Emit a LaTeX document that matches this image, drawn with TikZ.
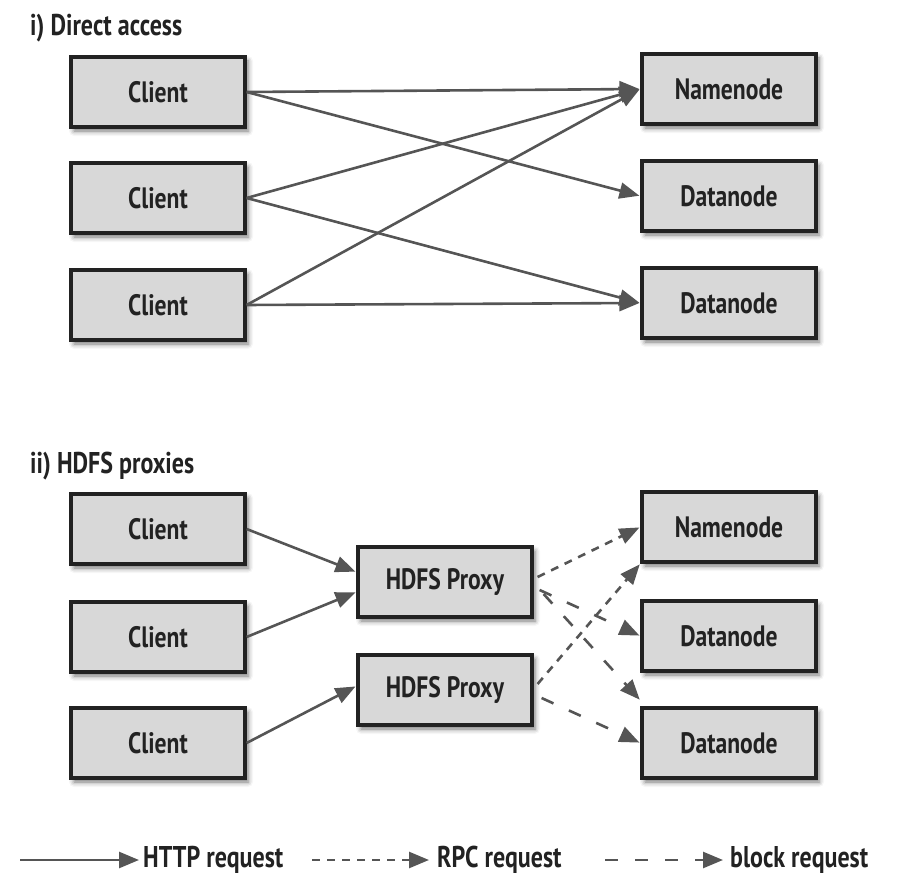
\documentclass[tikz,border=0pt]{standalone}
\usepackage{fontspec}
\setmainfont{PT Sans}[FakeStretch=0.8]
\usetikzlibrary{arrows.meta,shadows.blur}
\definecolor{boxfill}{HTML}{D8D8D8}
\definecolor{boxline}{HTML}{222222}
\definecolor{linkgray}{HTML}{555555}
\begin{document}
\begin{tikzpicture}[x=1pt,y=-1pt,
  box/.style={draw=boxline, line width=3.2pt, fill=boxfill, minimum width=174pt, minimum height=70pt,
    inner sep=0pt, font=\fontsize{29.5}{31}\selectfont\bfseries, text=boxline,
    blur shadow={shadow xshift=3pt, shadow yshift=-4pt, shadow blur radius=5pt, shadow opacity=55}},
  title/.style={anchor=base west, inner sep=0pt, font=\fontsize{30}{32}\selectfont\bfseries, text=boxline},
  legtext/.style={anchor=west, inner sep=0pt, font=\fontsize{30}{32}\selectfont\bfseries, text=boxline},
  link/.style={draw=linkgray, line width=2.6pt, -{Triangle[length=20pt,width=16pt]}, shorten >=1pt},
  rpc/.style={link, dash pattern=on 8pt off 7pt},
  blk/.style={link, dash pattern=on 13pt off 17pt}]
\useasboundingbox (0,0) rectangle (908,896);

% i) Direct access
\node[title] (t1) at (30,36) {i) Direct access};
\node[box] (c1) at (158,92) {Client};
\node[box] (c2) at (158,198) {Client};
\node[box] (c3) at (158,305) {Client};
\node[box] (n1) at (729,89) {Namenode};
\node[box] (d1) at (729,196) {Datanode};
\node[box] (d2) at (729,303) {Datanode};

\draw[link] (c1.east) -- (n1.west);
\draw[link] (c1.east) -- (d1.west);
\draw[link] (c2.east) -- (n1.west);
\draw[link] (c2.east) -- (d2.west);
\draw[link] (c3.east) -- (n1.west);
\draw[link] (c3.east) -- (d2.west);

% ii) HDFS proxies
\node[title] (t2) at (30,473) {ii) HDFS proxies};
\node[box] (c4) at (158,529) {Client};
\node[box] (c5) at (158,637) {Client};
\node[box] (c6) at (158,743) {Client};
\node[box] (p1) at (445,582) {HDFS Proxy};
\node[box] (p2) at (445,690) {HDFS Proxy};
\node[box] (n2) at (729,527) {Namenode};
\node[box] (d3) at (729,636) {Datanode};
\node[box] (d4) at (729,743) {Datanode};

\draw[link] (c4.east) -- ([yshift=10pt]p1.west);
\draw[link] (c5.east) -- ([yshift=-10pt]p1.west);
\draw[link] (c6.east) -- ([yshift=4pt]p2.west);

\draw[rpc] ([xshift=4pt,yshift=5pt]p1.east) -- (n2.west);
\draw[blk] ([xshift=6pt,yshift=-8pt]p1.east) -- (d3.west);
\draw[blk] ([xshift=10pt,yshift=-12pt]p1.east) -- ([yshift=6pt]d4.north west);
\draw[rpc] ([xshift=4pt,yshift=6pt]p2.east) -- (n2.south west);
\draw[blk] ([xshift=8pt,yshift=-8pt]p2.east) -- (d4.west);

% legend
\coordinate (la0) at (20,860);
\coordinate (la1) at (139,860);
\coordinate (lb0) at (312,860);
\coordinate (lb1) at (429,860);
\coordinate (lc0) at (605,860);
\coordinate (lc1) at (723,860);
\draw[link, shorten >=0pt] (la0) -- (la1);
\node[legtext] (lt1) at (143,860) {HTTP request};
\draw[rpc, shorten >=0pt] (lb0) -- (lb1);
\node[legtext] (lt2) at (437,860) {RPC request};
\draw[blk, shorten >=0pt] (lc0) -- (lc1);
\node[legtext] (lt3) at (730,860) {block request};
\end{tikzpicture}
\end{document}
